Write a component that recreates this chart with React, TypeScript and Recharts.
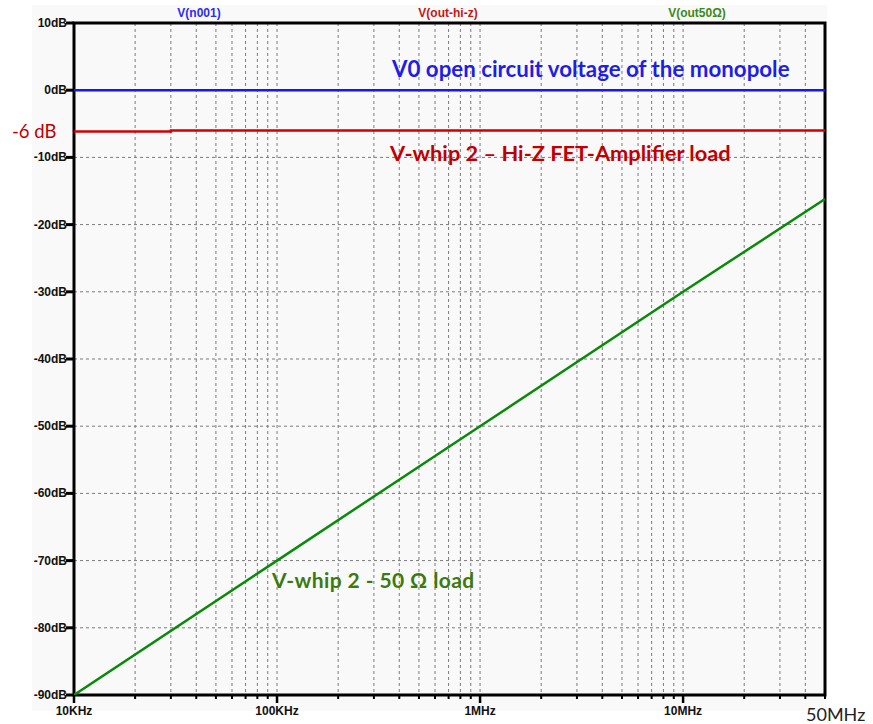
import React from 'react';
import { LineChart, Line, XAxis, YAxis, CartesianGrid, ReferenceArea } from 'recharts';

// ---- data ----
const out50Freq = [1e4, 1e5, 1e6, 1e7, 5e7];
const out50Db = [-90, -70, -50, -30, -16.2];
const n001Freq = [1e4, 5e7];
const n001Db = [0, 0];
const hiZFreq = [1e4, 3e4, 3e4, 5e7];
const hiZDb = [-6.15, -6.15, -6.0, -6.0];

const majorTicks = [1e4, 1e5, 1e6, 1e7];
const majorLabels = ['10KHz', '100KHz', '1MHz', '10MHz'];
const minorMultipliers = [2, 3, 4, 5, 6, 7, 8, 9];
const yTicks = [10, 0, -10, -20, -30, -40, -50, -60, -70, -80, -90];
const yLabels = ['10dB', '0dB', '-10dB', '-20dB', '-30dB', '-40dB', '-50dB', '-60dB', '-70dB', '-80dB', '-90dB'];
const seriesNames = ['V(n001)', 'V(out-hi-z)', 'V(out50\u03A9)'];

const toRows = (fs: number[], vs: number[]) => fs.map((f, i) => ({ f, v: vs[i] }));
const out50Data = toRows(out50Freq, out50Db);
const n001Data = toRows(n001Freq, n001Db);
const hiZData = toRows(hiZFreq, hiZDb);

const xTicks: number[] = [];
majorTicks.forEach((d) => {
  xTicks.push(d);
  minorMultipliers.forEach((m) => {
    if (d * m <= 5e7) xTicks.push(d * m);
  });
});

const AXIS_FONT = "'Liberation Sans', Arial, sans-serif";
const NOTE_FONT = "Lato, 'Open Sans', sans-serif";

const XTick = (props: any) => {
  const { x, y, payload } = props;
  const idx = majorTicks.indexOf(payload.value);
  const major = idx >= 0;
  return (
    <g>
      <line x1={x} x2={x} y1={y} y2={y + (major ? 8 : 4)} stroke="#000" strokeWidth={major ? 2.5 : 2} />
      {major && (
        <text x={x} y={y + 20} textAnchor="middle" fontFamily={AXIS_FONT} fontWeight="bold" fontSize={12} fill="#111">
          {majorLabels[idx]}
        </text>
      )}
    </g>
  );
};

const YTick = (props: any) => {
  const { x, y, payload } = props;
  const idx = yTicks.indexOf(payload.value);
  return (
    <g>
      <line x1={x - 8} x2={x} y1={y} y2={y} stroke="#000" strokeWidth={3} />
      <text x={x - 7} y={y + 4} textAnchor="end" fontFamily={AXIS_FONT} fontWeight="bold" fontSize={12} fill="#111">
        {yLabels[idx]}
      </text>
    </g>
  );
};

export default function App() {
  return (
    <div style={{ position: 'absolute', left: 0, top: 0, width: 873, height: 724, background: '#fff' }}>
      <div style={{ position: 'absolute', left: 32, top: 5, width: 795, height: 706, background: '#f9f9f9' }} />
      <div style={{ position: 'absolute', left: 0, top: 0 }}>
        <LineChart width={873} height={724} margin={{ top: 23, right: 48, left: 14, bottom: 4 }}>
          <CartesianGrid stroke="#7a7a7a" strokeDasharray="3 3" strokeWidth={1} />
          <XAxis
            dataKey="f"
            type="number"
            scale="log"
            domain={[1e4, 5e7]}
            ticks={xTicks}
            interval={0}
            allowDataOverflow
            axisLine={false}
            tickLine={false}
            tickSize={0}
            tickMargin={0}
            height={25}
            tick={<XTick />}
          />
          <YAxis
            dataKey="v"
            type="number"
            domain={[-90, 10]}
            ticks={yTicks}
            interval={0}
            allowDataOverflow
            axisLine={false}
            tickLine={false}
            tickSize={0}
            tickMargin={0}
            width={60}
            tick={<YTick />}
          />
          <Line data={n001Data} dataKey="v" type="linear" stroke="#1515ff" strokeWidth={2.5} dot={false} isAnimationActive={false} />
          <Line data={hiZData} dataKey="v" type="linear" stroke="#d00000" strokeWidth={2.5} dot={false} isAnimationActive={false} />
          <Line data={out50Data} dataKey="v" type="linear" stroke="#0a8a0a" strokeWidth={2.5} dot={false} isAnimationActive={false} />
          <ReferenceArea x1={1e4} x2={5e7} y1={-90} y2={10} fill="none" stroke="#000" strokeWidth={3} ifOverflow="visible" />
        </LineChart>
      </div>
      <svg width={873} height={724} style={{ position: 'absolute', left: 0, top: 0, pointerEvents: 'none' }}>
        <text x={199} y={17} textAnchor="middle" fontFamily={AXIS_FONT} fontWeight="bold" fontSize={12} fill="#2a2aff">{seriesNames[0]}</text>
        <text x={448} y={17} textAnchor="middle" fontFamily={AXIS_FONT} fontWeight="bold" fontSize={12} fill="#c81414">{seriesNames[1]}</text>
        <text x={697} y={17} textAnchor="middle" fontFamily={AXIS_FONT} fontWeight="bold" fontSize={12} fill="#3a8a1a">{seriesNames[2]}</text>
        <text x={392} y={77} fontFamily={NOTE_FONT} fontWeight="bold" fontSize={22.3} fill="#1e1ee6">V0 open circuit voltage of the monopole</text>
        <text x={390} y={161} fontFamily={NOTE_FONT} fontWeight="bold" fontSize={21.8} fill="#c00000">V-whip 2 – Hi-Z FET-Amplifier load</text>
        <text x={272} y={588} fontFamily={NOTE_FONT} fontWeight="bold" fontSize={21} letterSpacing={0.4} fill="#3b7a0e">V-whip 2 - 50 Ω load</text>
        <text x={12} y={138} fontFamily={NOTE_FONT} fontSize={18.5} fill="#c00000">-6 dB</text>
        <text x={806} y={721} fontFamily={NOTE_FONT} fontSize={18} fill="#222">50MHz</text>
      </svg>
    </div>
  );
}
